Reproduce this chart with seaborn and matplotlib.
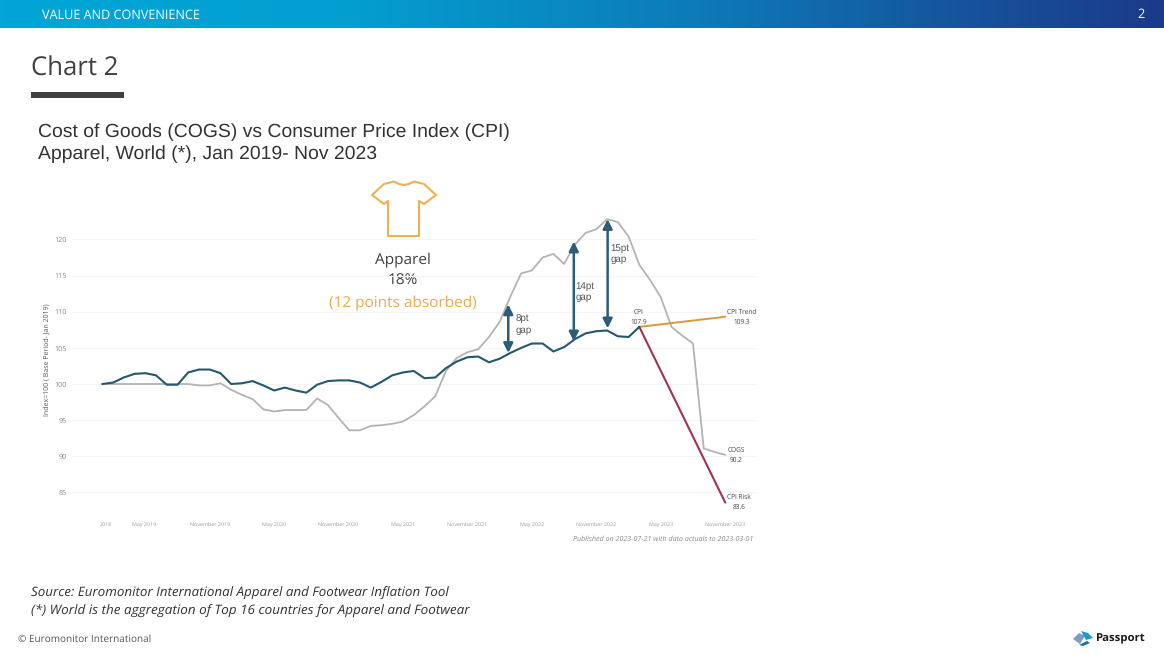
import numpy as np
import pandas as pd
import seaborn as sns
import matplotlib.pyplot as plt
from matplotlib.colors import LinearSegmentedColormap
from matplotlib.patches import Polygon, Rectangle

W, H = 1164, 655

cogs = [100, 100, 100, 100, 100, 100, 100, 100, 100, 99.8, 99.8, 100.1, 99.2, 98.5, 97.9,
        96.5, 96.2, 96.4, 96.4, 96.4, 98.0, 97.1, 95.3, 93.6, 93.6, 94.2, 94.3, 94.5, 94.8,
        95.7, 96.9, 98.3, 101.8, 103.6, 104.4, 104.8, 106.5, 108.6, 112.1, 115.3, 115.7,
        117.5, 118.0, 116.6, 119.3, 120.9, 121.4, 122.8, 122.4, 120.4, 116.5, 114.4, 112.0,
        107.9, 106.7, 105.6, 91.1, 90.6, 90.2]
cpi = [100, 100.2, 100.9, 101.4, 101.5, 101.2, 99.9, 99.9, 101.6, 102.0, 102.0, 101.5, 100.0,
       100.1, 100.4, 99.8, 99.1, 99.5, 99.1, 98.8, 99.9, 100.4, 100.5, 100.5, 100.2, 99.5,
       100.3, 101.2, 101.6, 101.8, 100.8, 100.9, 102.2, 103.1, 103.7, 103.8, 103.0, 103.5,
       104.3, 105.0, 105.6, 105.6, 104.5, 105.1, 106.2, 107.0, 107.3, 107.4, 106.6, 106.5,
       107.9]
trend_months = [50, 58]
trend_values = [107.9, 109.3]
risk_months = [50, 58]
risk_values = [107.9, 83.6]

y_ticks = [85, 90, 95, 100, 105, 110, 115, 120]
x_ticks = [0.35, 3.9, 10, 16, 22, 28, 34, 40, 46, 52, 58]
x_labels = ['2018', 'May 2019', 'November 2019', 'May 2020', 'November 2020', 'May 2021',
            'November 2021', 'May 2022', 'November 2022', 'May 2023', 'November 2023']

# month, low end, high end, label
gaps = [(37.8, 104.3, 111.0, '8pt\ngap', 38.5, 108.2),
        (43.9, 105.9, 119.7, '14pt\ngap', 44.07, 112.7),
        (47.05, 107.7, 122.8, '15pt\ngap', 47.3, 118.0)]

GREY = '#b3b3b3'
ORANGE = '#d9983c'
RED = '#a3324f'

sns.set_theme(style='white')
plt.rcParams['font.family'] = ['Open Sans', 'DejaVu Sans']
plt.rcParams['text.hinting'] = 'none'

fig = plt.figure(figsize=(W / 100, H / 100), dpi=100, facecolor='white')

# chart axes, placed so the months and index values land on the reference pixels
px_per_month = 10.74
px_per_point = 7.23
left, right, top, bottom = 72, 757, 214, 517
ax = fig.add_axes([left / W, 1 - bottom / H, (right - left) / W, (bottom - top) / H])
ax.patch.set_visible(False)
ax.set_xlim((left - 102.3) / px_per_month, (right - 102.3) / px_per_month)
ax.set_ylim(100 - (bottom - 384) / px_per_point, 100 + (384 - top) / px_per_point)

sns.lineplot(x=range(len(cogs)), y=cogs, ax=ax, color=GREY, lw=1.3, errorbar=None)
sns.lineplot(x=trend_months, y=trend_values, ax=ax, color=ORANGE, lw=1.4, errorbar=None)
sns.lineplot(x=risk_months, y=risk_values, ax=ax, color=RED, lw=1.5, errorbar=None)
sns.lineplot(x=range(len(cpi)), y=cpi, ax=ax, color='#24586a', lw=1.5, errorbar=None)

ax.set_yticks(y_ticks)
ax.set_yticklabels(y_ticks, fontsize=5.2, color='#8a8a8a')
ax.set_xticks(x_ticks)
ax.set_xticklabels(x_labels, fontsize=3.9, color='#9a9a9a')
ax.tick_params(length=0, pad=4)
ax.tick_params(axis='x', pad=3.5)
ax.grid(axis='y', color='#f4f4f4', lw=0.8)
ax.set_axisbelow(True)
for side in ax.spines.values():
    side.set_visible(False)
ax.set_ylabel('Index=100 ( Base Period- Jan 2019)', fontsize=5.0, color='#555555')
ax.yaxis.set_label_coords((50 - left) / (right - left), (bottom - 360) / (bottom - top))

for month, low, high, label, tx, ty in gaps:
    ax.annotate('', xy=(month, high), xytext=(month, low),
                arrowprops=dict(arrowstyle='<|-|>', color='#2b5c78', lw=1.8, mutation_scale=14,
                                shrinkA=0, shrinkB=0))
    ax.text(tx, ty, label, fontsize=7, color='#555555', family='Liberation Sans',
            ha='left', va='center', linespacing=1.25)

small = dict(fontsize=4.7, color='#444444', ha='center', va='center', linespacing=1.6)
ax.text(49.95, 109.3, 'CPI\n107.9', **small)
ax.text(59.5, 109.3, 'CPI Trend\n109.3', **small)
ax.text(59.0, 90.2, 'COGS\n90.2', **small)
ax.text(59.3, 83.7, 'CPI Risk\n83.6', **small)

# slide furniture, in pixel coordinates
page = fig.add_axes([0, 0, 1, 1], zorder=-1)
page.set_xlim(0, W)
page.set_ylim(H, 0)
page.axis('off')

banner = LinearSegmentedColormap.from_list('banner', [(0, '#00a6d6'), (0.28, '#03a0d2'),
                                                      (0.6, '#0d7bb8'), (0.85, '#17509a'),
                                                      (1, '#1b3a8a')])
page.imshow(np.linspace(0, 1, 256).reshape(1, -1), cmap=banner, aspect='auto',
            extent=(0, W, 28.5, 0))
page.set_xlim(0, W)
page.set_ylim(H, 0)
page.text(42, 15, 'VALUE AND CONVENIENCE', color='white', fontsize=9.1, va='center')
page.text(1141, 15, '2', color='white', fontsize=9.1, va='center', ha='center')

page.text(31, 68.5, 'Chart 2', color='#404040', fontsize=18.5, va='center')
page.add_patch(Rectangle((31, 92), 93, 5.5, color='#404040', lw=0))

page.text(38.5, 132.5, 'Cost of Goods (COGS) vs Consumer Price Index (CPI)', color='#333333',
          fontsize=13.95, family='Liberation Sans', va='center')
page.text(38.5, 154.5, 'Apparel, World (*), Jan 2019- Nov 2023', color='#333333',
          fontsize=13.95, family='Liberation Sans', va='center')

shirt = [(372, 195), (384, 184), (394, 181.5), (399, 184), (404, 185), (409, 184), (414, 181.5),
         (424, 184), (436, 195), (424, 204), (419, 201), (419, 236), (388, 236), (388, 201),
         (384, 204)]
page.add_patch(Polygon(shirt, closed=True, fill=False, ec='#efb052', lw=1.5, joinstyle='round'))

page.text(403, 259.5, 'Apparel', color='#404040', fontsize=11.1, ha='center', va='center')
page.text(403, 281, '18%', color='#404040', fontsize=11.1, ha='center', va='center')
page.text(403, 302.5, '(12 points absorbed)', color='#eba94f', fontsize=11.1, ha='center', va='center')

page.text(753, 539, 'Published on 2023-07-21 with data actuals to 2023-03-01', color='#8a8a8a',
          fontsize=5.15, style='italic', ha='right', va='center')

page.text(31, 593, 'Source: Euromonitor International Apparel and Footwear Inflation Tool',
          color='#333333', fontsize=9.65, style='italic', va='center')
page.text(31, 611, '(*) World is the aggregation of Top 16 countries for Apparel and Footwear',
          color='#333333', fontsize=9.7, style='italic', va='center')
page.text(18, 639, '© Euromonitor International', color='#555555', fontsize=7.2, va='center')

# Passport logo
page.add_patch(Polygon([(1073, 639), (1079, 633), (1085, 636), (1080, 644)], color='#7d9cc4', lw=0))
page.add_patch(Polygon([(1081, 631), (1088, 633), (1093, 638), (1086, 640)], color='#1c9ac9', lw=0))
page.add_patch(Polygon([(1079, 645), (1087, 641), (1090, 643), (1083, 646)], color='#1c6f9c', lw=0))
page.text(1096, 638.5, 'Passport', color='#1a1a1a', fontsize=8.2, weight='bold', va='center')

fig.savefig('out.png', dpi=100, facecolor='white')
